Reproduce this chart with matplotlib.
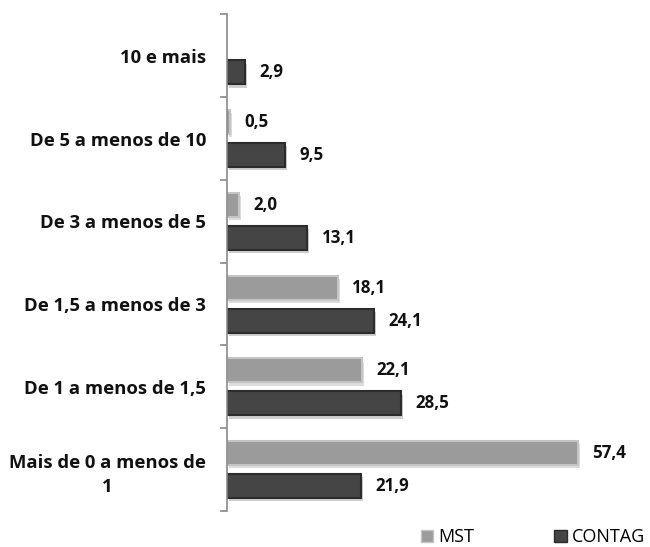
import matplotlib
matplotlib.use("Agg")
import matplotlib.pyplot as plt
import numpy as np
from matplotlib.patches import Patch

categories = ["10 e mais", "De 5 a menos de 10", "De 3 a menos de 5",
              "De 1,5 a menos de 3", "De 1 a menos de 1,5", "Mais de 0 a menos de\n1"]
mst = [None, 0.5, 2.0, 18.1, 22.1, 57.4]
contag = [2.9, 9.5, 13.1, 24.1, 28.5, 21.9]
series_names = ["MST", "CONTAG"]

plt.rcParams['font.family'] = ['Open Sans', 'DejaVu Sans']

fig = plt.figure(figsize=(6.5, 5.47), dpi=100)
ax = fig.add_axes([0.349, 0.0658, 0.602, 0.908])

n = len(categories)
ypos = np.arange(n)
h = 0.29
off = 0.2

mst_color = "#9b9b9b"
mst_edge = "#c4c4c4"
con_color = "#454545"
con_edge = "#2c2c2c"

def fmt(v):
    return f"{v:.1f}".replace(".", ",")

for i in range(n):
    y = ypos[i]
    if mst[i] is not None:
        ax.barh(y - off + 0.04, mst[i], height=h, left=0.35, color="#dddddd", zorder=1)
        ax.barh(y - off, mst[i], height=h, color=mst_color, edgecolor=mst_edge, linewidth=1.5, zorder=2)
        ax.text(mst[i] + 2.4, y - off, fmt(mst[i]), va="center", ha="left",
                fontsize=12.2, fontweight="bold", color="#111111")
    ax.barh(y + off + 0.04, contag[i], height=h, left=0.35, color="#cfcfcf", zorder=1)
    ax.barh(y + off, contag[i], height=h, color=con_color, edgecolor=con_edge, linewidth=1.5, zorder=2)
    ax.text(contag[i] + 2.4, y + off, fmt(contag[i]), va="center", ha="left",
            fontsize=12.2, fontweight="bold", color="#111111")

ax.set_xlim(0, 64)
ax.set_ylim(n - 0.5, -0.5)
ax.set_yticks(ypos)
ax.set_yticklabels(categories, fontsize=13.3, fontweight="bold", multialignment="center",
                   linespacing=1.45, color="#111111")
ax.set_yticks(np.arange(-0.5, n, 1.0), minor=True)
ax.tick_params(axis="y", which="major", length=0, pad=15)
ax.tick_params(axis="y", which="minor", length=5, width=1.2, color="#8a8a8a", direction="out")
ax.set_xticks([])
for s in ["top", "right", "bottom"]:
    ax.spines[s].set_visible(False)
ax.spines["left"].set_color("#8a8a8a")
ax.spines["left"].set_linewidth(1.2)

handles = [Patch(facecolor=mst_color, edgecolor=mst_edge, label=series_names[0]),
           Patch(facecolor=con_color, edgecolor=con_edge, label=series_names[1])]
fig.legend(handles=handles, loc="center", bbox_to_anchor=(0.82, 0.018), ncol=2,
           frameon=False, fontsize=13, handlelength=0.7, handleheight=0.7,
           handletextpad=0.3, columnspacing=4.4)

fig.savefig("out.png", dpi=100)
